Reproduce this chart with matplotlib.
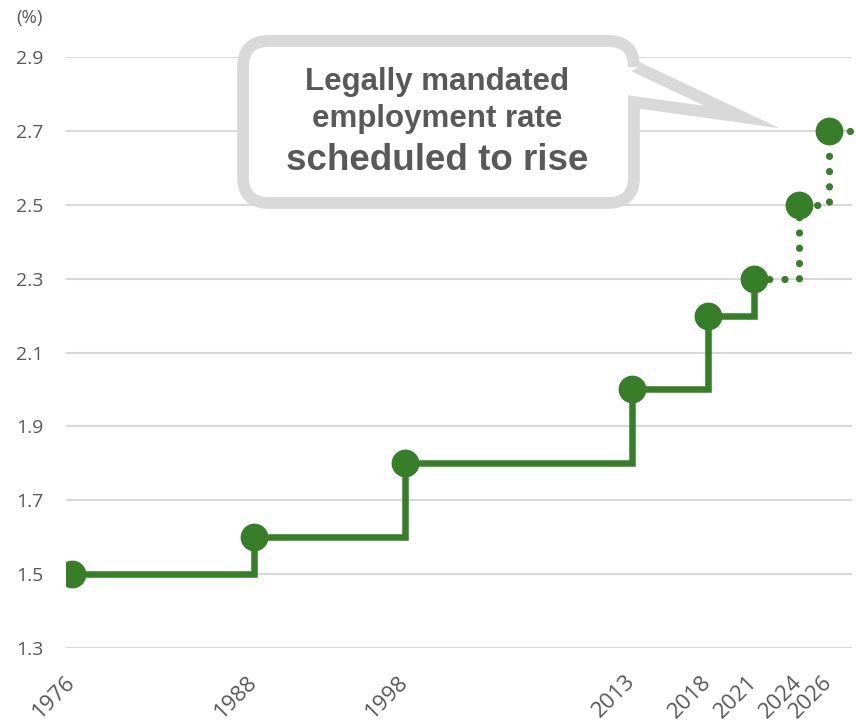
import numpy as np
import matplotlib.pyplot as plt
from matplotlib.path import Path
from matplotlib.patches import PathPatch

# data
years = [1976, 1988, 1998, 2013, 2018, 2021, 2024, 2026]
rates = [1.5, 1.6, 1.8, 2.0, 2.2, 2.3, 2.5, 2.7]
n_actual = 6  # 1976..2021 are in force, later ones are scheduled
yticks = [1.3, 1.5, 1.7, 1.9, 2.1, 2.3, 2.5, 2.7, 2.9]
callout_lines = ["Legally mandated", "employment rate", "scheduled to rise"]

green = "#367e28"
grey_txt = "#595959"

W, H = 856, 727
fig = plt.figure(figsize=(W / 100, H / 100), dpi=100)
ax = fig.add_axes([66 / W, 1 - 648 / H, (852 - 66) / W, (648 - 57) / H])

xmin, xmax = 1975.6, 2027.5
ax.set_xlim(xmin, xmax)
ax.set_ylim(1.3, 2.9)

# solid step up to 2021
ax.step(years[:n_actual], rates[:n_actual], where="post", color=green, lw=4.7,
        solid_capstyle="projecting", solid_joinstyle="miter", zorder=3)
# dotted step for scheduled rises, carried to the right edge
fx = years[n_actual - 1:] + [xmax]
fy = rates[n_actual - 1:] + [rates[-1]]
ax.step(fx, fy, where="post", color=green, lw=5.2, ls=(0, (0.01, 2.1)),
        dash_capstyle="round", zorder=3, clip_on=False)
ax.plot(years, rates, "o", color=green, ms=19, zorder=4)

ax.set_yticks(yticks)
ax.set_yticklabels([f"{v:.1f}" for v in yticks])
ax.set_xticks(years)
ax.set_xticklabels([str(y) for y in years], rotation=45, ha="right", va="center",
                   rotation_mode="anchor")
ax.tick_params(axis="y", length=0, pad=16, labelsize=14, labelcolor=grey_txt)
ax.tick_params(axis="x", length=0, pad=22, labelsize=16, labelcolor=grey_txt)
for lab in ax.get_xticklabels() + ax.get_yticklabels():
    lab.set_family("Open Sans")

ax.grid(axis="y", color="#d9d9d9", lw=1.5)
ax.set_axisbelow(True)
for s in ax.spines.values():
    s.set_visible(False)

fig.text(16 / W, 1 - 18 / H, "(%)", fontsize=13.5, color=grey_txt,
         family="Open Sans", va="center", ha="left")

# callout bubble, in pixel coords (y down)
L, R, T, B, r = 243, 634, 41, 203, 26
pts = [(L + r, T), (R - r, T), (R, T), (R, T + r), (R, 66), (742, 117), (R, 102),
       (R, B - r), (R, B), (R - r, B), (L + r, B), (L, B), (L, B - r),
       (L, T + r), (L, T), (L + r, T), (L + r, T)]
codes = [Path.MOVETO, Path.LINETO, Path.CURVE3, Path.CURVE3, Path.LINETO,
         Path.LINETO, Path.LINETO, Path.LINETO, Path.CURVE3, Path.CURVE3,
         Path.LINETO, Path.CURVE3, Path.CURVE3, Path.LINETO, Path.CURVE3,
         Path.CURVE3, Path.CLOSEPOLY]
verts = [(x / W, 1 - y / H) for x, y in pts]
bubble = PathPatch(Path(verts, codes), transform=fig.transFigure, facecolor="white",
                   edgecolor="#d9d9d9", lw=8.5, joinstyle="miter", zorder=5)
fig.patches.append(bubble)

for txt, yy, fs in zip(callout_lines, [82, 119, 160], [22.5, 22.5, 26.5]):
    fig.text(437 / W, 1 - yy / H, txt, fontsize=fs, fontweight="bold",
             color=grey_txt, family="Liberation Sans", ha="center", va="center",
             zorder=6)

fig.savefig("out.png", dpi=100)
